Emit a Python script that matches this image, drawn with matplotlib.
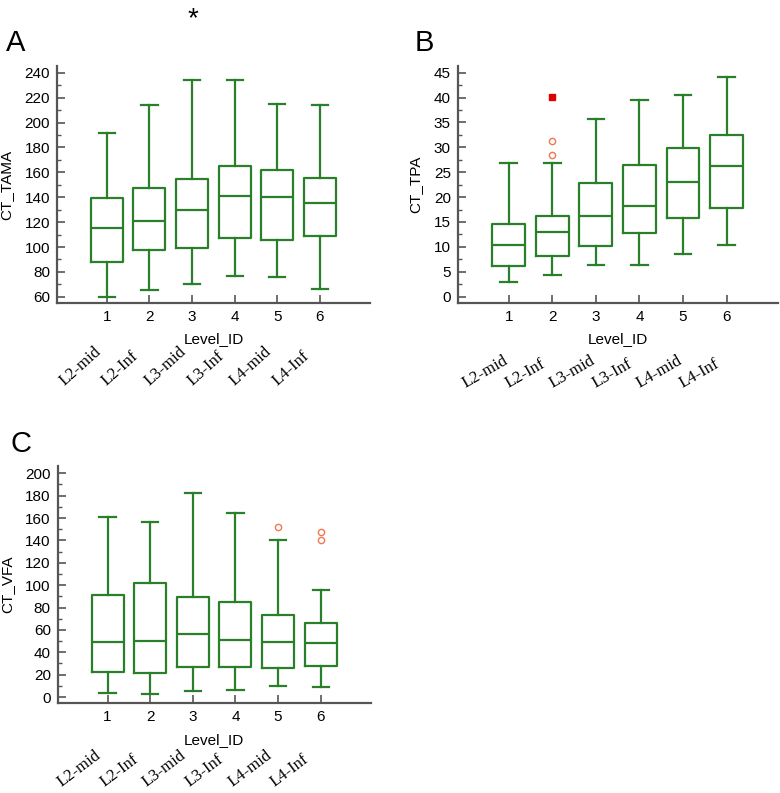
"""
Box plots of CT measures by vertebral level (panels A, B, C)
"""

import matplotlib
matplotlib.use("Agg")
import matplotlib.pyplot as plt
from matplotlib.ticker import MultipleLocator
import matplotlib.transforms as mtransforms

plt.rcParams['font.family'] = ['Liberation Sans', 'DejaVu Sans']

levels = [1, 2, 3, 4, 5, 6]
level_names = ['L2-mid', 'L2-Inf', 'L3-mid', 'L3-Inf', 'L4-mid', 'L4-Inf']

# A: CT_TAMA
tama_low = [60, 65.6, 70.4, 76.9, 76.3, 66.4]
tama_q1 = [88.1, 97.2, 99.1, 107.1, 105.8, 108.5]
tama_med = [115.4, 121.3, 129.9, 141.2, 140.1, 135.5]
tama_q3 = [139.3, 147.6, 154.3, 165.3, 161.5, 155.6]
tama_high = [191.5, 214.3, 234.1, 233.9, 215.1, 214.3]
tama_out = [[], [], [], [], [], []]

# B: CT_TPA
tpa_low = [2.9, 4.35, 6.4, 6.4, 8.6, 10.4]
tpa_q1 = [6.23, 8.1, 10.25, 12.86, 15.9, 17.9]
tpa_med = [10.38, 13.06, 16.2, 18.29, 23.0, 26.2]
tpa_q3 = [14.5, 16.2, 22.84, 26.5, 29.8, 32.5]
tpa_high = [26.86, 26.86, 35.77, 39.58, 40.6, 44.1]
tpa_out = [[], [28.4, 31.2], [], [], [], []]
tpa_far = [[], [40.2], [], [], [], []]

# C: CT_VFA
vfa_low = [3.6, 2.7, 5.4, 6.6, 9.8, 8.9]
vfa_q1 = [22.4, 21.8, 27.1, 26.5, 26.2, 27.7]
vfa_med = [48.9, 50.4, 56.6, 51.3, 49.5, 48.3]
vfa_q3 = [91.2, 101.9, 89.4, 85.2, 73.6, 66.2]
vfa_high = [160.9, 156.5, 182.4, 164.5, 140.4, 95.7]
vfa_out = [[], [], [], [], [152], [140.4, 147.8]]

green = '#2a7f2a'
spine_col = '#555555'

fig = plt.figure(figsize=(7.8, 7.93), dpi=100)


def make_stats(low, q1, med, q3, high, out):
    stats = []
    for i in range(len(low)):
        stats.append({'whislo': low[i], 'q1': q1[i], 'med': med[i],
                      'q3': q3[i], 'whishi': high[i], 'fliers': out[i]})
    return stats


def draw_panel(rect, stats, ylabel, ylim, ystep, letter, letter_xy,
               rot, label_dx, label_y, far=None):
    ax = fig.add_axes(rect)
    ax.bxp(stats, positions=levels, widths=0.75, showfliers=True,
           boxprops=dict(color=green, linewidth=1.6),
           medianprops=dict(color=green, linewidth=1.6),
           whiskerprops=dict(color=green, linewidth=1.6),
           capprops=dict(color=green, linewidth=1.6),
           capwidths=0.38,
           flierprops=dict(marker='o', markersize=4.5, markerfacecolor='none',
                           markeredgecolor='#f07850', markeredgewidth=1.0,
                           linestyle='none'))
    if far is not None:
        for i, vals in enumerate(far):
            for v in vals:
                ax.plot(levels[i], v, marker='s', markersize=5,
                        color='#e00000', linestyle='none')
    ax.set_xlim(-0.17, 7.18)
    ax.set_ylim(*ylim)
    ax.set_xticks(levels)
    ax.set_xticklabels([str(l) for l in levels])
    ax.yaxis.set_major_locator(MultipleLocator(ystep))
    ax.yaxis.set_minor_locator(MultipleLocator(ystep / 2))
    for s in ['top', 'right']:
        ax.spines[s].set_visible(False)
    for s in ['left', 'bottom']:
        ax.spines[s].set_color(spine_col)
        ax.spines[s].set_linewidth(1.6)
    ax.tick_params(axis='both', which='major', direction='in', length=6,
                   width=1.2, color=spine_col, labelsize=11, pad=5)
    ax.tick_params(axis='y', which='minor', direction='in', length=3,
                   width=1.0, color=spine_col)
    ax.tick_params(axis='x', which='minor', bottom=False)
    ax.set_xlabel('Level_ID', fontsize=11, labelpad=6)
    ax.set_ylabel(ylabel, fontsize=11, labelpad=8)
    fig.text(letter_xy[0], letter_xy[1], letter, fontsize=21,
             ha='left', va='top')
    trans = mtransforms.blended_transform_factory(ax.transData, ax.transAxes)
    for i, name in enumerate(level_names):
        ax.text(levels[i] - label_dx, label_y, name, transform=trans,
                rotation=rot, rotation_mode='anchor', ha='left',
                va='baseline', fontsize=12, family='Liberation Serif')
    return ax


draw_panel([0.0731, 0.6179, 0.4013, 0.2989],
           make_stats(tama_low, tama_q1, tama_med, tama_q3, tama_high, tama_out),
           'CT_TAMA', (55, 245.5), 20, 'A', (0.008, 0.964),
           42, 1.0, -0.35)

draw_panel([0.5868, 0.6179, 0.4106, 0.2993],
           make_stats(tpa_low, tpa_q1, tpa_med, tpa_q3, tpa_high, tpa_out),
           'CT_TPA', (-1.27, 46.4), 5, 'B', (0.531, 0.964),
           30, 1.0, -0.36, far=tpa_far)

draw_panel([0.074, 0.1131, 0.4016, 0.2993],
           make_stats(vfa_low, vfa_q1, vfa_med, vfa_q3, vfa_high, vfa_out),
           'CT_VFA', (-5.6, 206.5), 20, 'C', (0.013, 0.458),
           37, 1.08, -0.352)

fig.text(0.247, 0.992, '*', fontsize=20, ha='center', va='top')

fig.savefig('out.png', dpi=100)
